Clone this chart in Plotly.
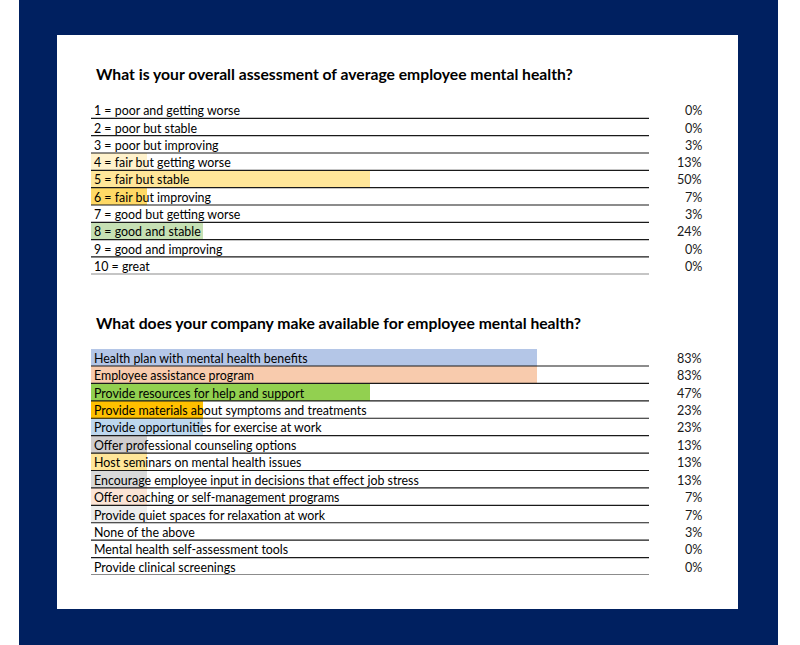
import plotly.graph_objects as go

# ---------------- data ----------------
title1 = "What is your overall assessment of average employee mental health?"
labels1 = ["1 = poor and getting worse", "2 = poor but stable", "3 = poor but improving",
           "4 = fair but getting worse", "5 = fair but stable", "6 = fair but improving",
           "7 = good but getting worse", "8 = good and stable", "9 = good and improving",
           "10 = great"]
pct1 = [0, 0, 3, 13, 50, 7, 3, 24, 0, 0]
bar1 = [0, 0, 0, 10, 50, 10, 0, 20, 0, 0]          # shaded cell extent as drawn
colors1 = ["#FFFFFF", "#FFFFFF", "#FFFFFF", "#FFF2CC", "#FFE699", "#FFD966",
           "#FFFFFF", "#C6E0B4", "#FFFFFF", "#FFFFFF"]

title2 = "What does your company make available for employee mental health?"
labels2 = ["Health plan with mental health benefits", "Employee assistance program",
           "Provide resources for help and support", "Provide materials about symptoms and treatments",
           "Provide opportunities for exercise at work", "Offer professional counseling options",
           "Host seminars on mental health issues",
           "Encourage employee input in decisions that effect job stress",
           "Offer coaching or self-management programs", "Provide quiet spaces for relaxation at work",
           "None of the above", "Mental health self-assessment tools", "Provide clinical screenings"]
pct2 = [83, 83, 47, 23, 23, 13, 13, 13, 7, 7, 3, 0, 0]
bar2 = [80, 80, 50, 20, 20, 10, 10, 10, 10, 10, 0, 0, 0]  # shaded cell extent as drawn
colors2 = ["#B4C6E7", "#F8CBAD", "#92D050", "#FFC000", "#BDD7EE", "#D0CECE", "#FFE699",
           "#D9D9D9", "#FCE4D6", "#EDEDED", "#FFFFFF", "#FFFFFF", "#FFFFFF"]

# ---------------- figure ----------------
W, H = 800, 645
FONT = "Lato"
fig = go.Figure()

fig.add_trace(go.Bar(y=list(range(len(labels1))), x=bar1, orientation="h", width=1,
                     marker=dict(color=colors1, line=dict(width=0)),
                     xaxis="x", yaxis="y", hoverinfo="skip", showlegend=False))
fig.add_trace(go.Bar(y=list(range(len(labels2))), x=bar2, orientation="h", width=1,
                     marker=dict(color=colors2, line=dict(width=0)),
                     xaxis="x2", yaxis="y2", hoverinfo="skip", showlegend=False))

x_left, x_right = 91, 702
xmax = (x_right - x_left) / 5.58
line_end = 100

shapes = [
    dict(type="rect", xref="paper", yref="paper", x0=19 / W, x1=778 / W, y0=0, y1=1,
         fillcolor="#002060", line=dict(width=0), layer="below"),
    dict(type="rect", xref="paper", yref="paper", x0=57 / W, x1=738 / W,
         y0=1 - 609 / H, y1=1 - 35 / H, fillcolor="#FFFFFF", line=dict(width=0), layer="below"),
]
annotations = []

def section(labels, pcts, xr, yr):
    for i, (lab, p) in enumerate(zip(labels, pcts)):
        shapes.append(dict(type="line", xref=xr, yref=yr, x0=0, x1=line_end, y0=i + 0.5, y1=i + 0.5,
                           line=dict(color="#1a1a1a", width=1.2), layer="above"))
        annotations.append(dict(xref=xr, yref=yr, x=0, y=i, text=lab, showarrow=False,
                                xanchor="left", yanchor="middle", xshift=1, yshift=-1,
                                font=dict(family=FONT, size=12.4, color="#000000")))
        annotations.append(dict(xref=xr, yref=yr, x=xmax, y=i, text=f"{p}%", showarrow=False,
                                xanchor="right", yanchor="middle", xshift=2, yshift=-1,
                                font=dict(family=FONT, size=12.6, color="#1a1a1a")))

section(labels1, pct1, "x", "y")
section(labels2, pct2, "x2", "y2")

for t, yc in ((title1, 74), (title2, 323)):
    annotations.append(dict(xref="paper", yref="paper", x=94 / W, y=1 - yc / H, text=f"<b>{t}</b>",
                            showarrow=False, xanchor="left", yanchor="middle",
                            font=dict(family=FONT, size=15.7, color="#000000")))

axis_common = dict(showgrid=False, zeroline=False, showticklabels=False, showline=False, ticks="")
fig.update_layout(
    width=W, height=H, margin=dict(l=0, r=0, t=0, b=0),
    paper_bgcolor="#FFFFFF", plot_bgcolor="rgba(0,0,0,0)",
    xaxis=dict(domain=[x_left / W, x_right / W], range=[0, xmax], anchor="y", **axis_common),
    yaxis=dict(domain=[1 - 274.3 / H, 1 - 101 / H], range=[9.5, -0.5], anchor="x", **axis_common),
    xaxis2=dict(domain=[x_left / W, x_right / W], range=[0, xmax], anchor="y2", **axis_common),
    yaxis2=dict(domain=[1 - 575 / H, 1 - 348.6 / H], range=[12.5, -0.5], anchor="x2", **axis_common),
    shapes=shapes, annotations=annotations, bargap=0,
)

fig.write_html("out.html", config={"displayModeBar": False},
               post_script="document.body.style.margin='0px';document.body.style.overflow='hidden';")
